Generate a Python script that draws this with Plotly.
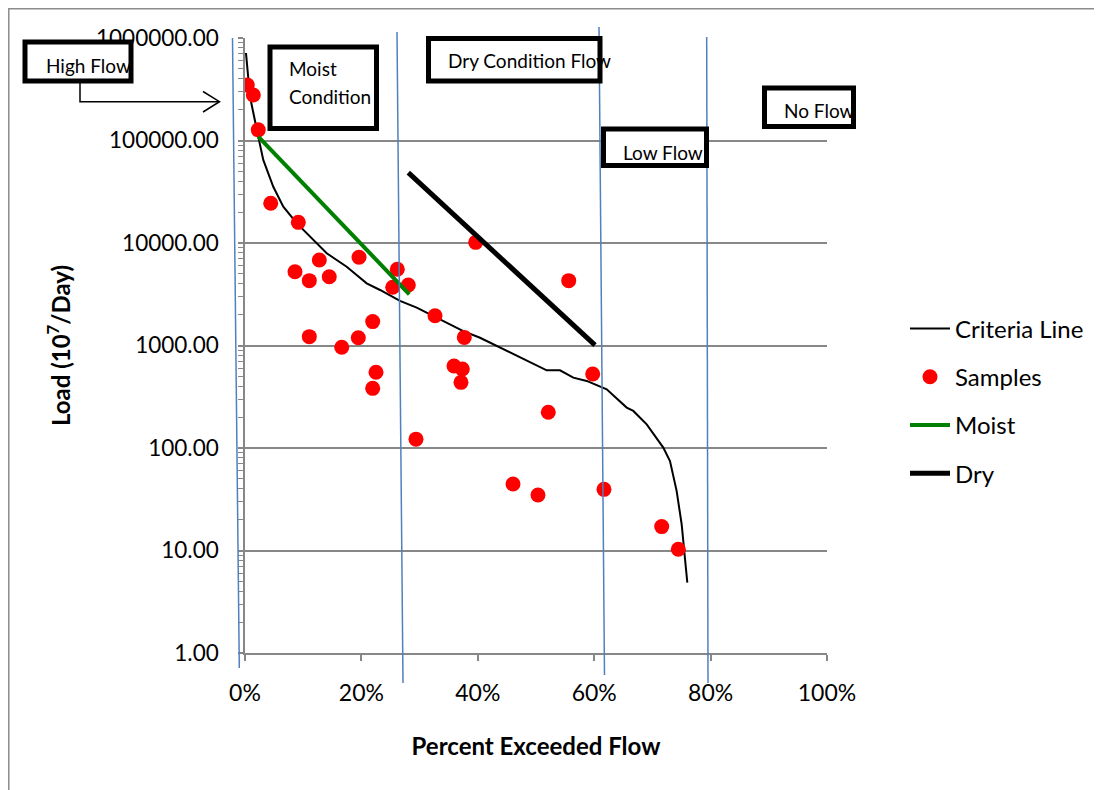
import plotly.graph_objects as go

# ---------------- data ----------------
criteria_x = [0.0017, 0.0086, 0.0228, 0.0314, 0.0486, 0.0658, 0.0888, 0.1117, 0.1404, 0.1747,
              0.2091, 0.2320, 0.2548, 0.2663, 0.2950, 0.3064, 0.3407, 0.3751, 0.4038, 0.4381,
              0.4610, 0.4897, 0.5184, 0.5412, 0.5641, 0.5871, 0.6215, 0.6558, 0.6672, 0.6902,
              0.7187, 0.7302, 0.7417, 0.7503, 0.7560, 0.7600]
criteria_y = [714000, 267000, 109000, 64600, 35400, 22600, 15600, 11500, 7930, 5870,
              4040, 3480, 2990, 2720, 2340, 2170, 1730, 1380, 1190, 951,
              820, 679, 573, 573, 486, 451, 374, 248, 230, 170,
              101, 74.6, 38.0, 18.0, 8.5, 4.85]

samples_x = [0.0040, 0.0143, 0.0228, 0.0442, 0.0916, 0.1277, 0.0859, 0.1105, 0.1448, 0.1959,
             0.2617, 0.2538, 0.2806, 0.3265, 0.3768, 0.2194, 0.1105, 0.1947, 0.1662, 0.2251,
             0.2194, 0.3591, 0.3734, 0.3711, 0.3964, 0.5562, 0.5974, 0.5211, 0.2938, 0.4605,
             0.5034, 0.6168, 0.7160, 0.7445]
samples_y = [348000, 278000, 127000, 24400, 15900, 6830, 5250, 4290, 4690, 7250,
             5540, 3700, 3890, 1950, 1200, 1710, 1220, 1190, 960, 548,
             382, 631, 590, 437, 10150, 4290, 527, 223, 122, 44.5,
             34.8, 39.5, 17.1, 10.3]

moist_x = [0.0228, 0.2548, 0.2823]
moist_y = [109000, 4530, 3160]

dry_x = [0.2806, 0.6014]
dry_y = [48500, 1010]

x_ticks = [0, 0.2, 0.4, 0.6, 0.8, 1.0]

# ---------------- layout helpers ----------------
# the page has an 8px body margin, so the figure is drawn 8px in from the window edge
OFF = 8
W, H = 1102 - OFF, 790 - OFF
# plot area in window pixels
L, R, T, B = 245, 827, 38, 653


def px(x):
    return (x - L) / (R - L)


def py(y):
    return (B - y) / (B - T)


FONT = "Lato, 'Open Sans', sans-serif"
GRID = "#878787"
BLUE = "#4F81BD"

fig = go.Figure()
fig.add_trace(go.Scatter(x=criteria_x, y=criteria_y, mode="lines", name="Criteria Line",
                         line=dict(color="black", width=2), legendgroup="a"))
fig.add_trace(go.Scatter(x=samples_x, y=samples_y, mode="markers", name="Samples",
                         marker=dict(color="#FF0000", size=15), legendgroup="b"))
fig.add_trace(go.Scatter(x=moist_x, y=moist_y, mode="lines", name="Moist",
                         line=dict(color="#008000", width=4), legendgroup="c"))
fig.add_trace(go.Scatter(x=dry_x, y=dry_y, mode="lines", name="Dry",
                         line=dict(color="black", width=5), legendgroup="d"))

shapes = []
# outer chart frame
shapes.append(dict(type="rect", xref="paper", yref="paper", x0=px(8.8), x1=px(1120), y0=py(8.8), y1=py(810),
                   line=dict(color="#8c8c8c", width=1.5), layer="below"))
# slanted zone boundary lines
for (xa, ya, xb, yb) in [(232.5, 38, 239.3, 668), (397, 32, 403, 683), (599, 27, 604.5, 675), (706.7, 37, 708, 683)]:
    shapes.append(dict(type="line", xref="paper", yref="paper", x0=px(xa), y0=py(ya), x1=px(xb), y1=py(yb),
                       line=dict(color=BLUE, width=1.5), layer="above"))
# text boxes
for (xa, ya, xb, yb) in [(25, 42, 131, 81), (270, 47, 376.5, 128.5), (428.5, 38.5, 600, 81),
                         (603.5, 129, 706.5, 165.5), (764.5, 88, 853.5, 126.5)]:
    shapes.append(dict(type="rect", xref="paper", yref="paper", x0=px(xa), y0=py(ya), x1=px(xb), y1=py(yb),
                       line=dict(color="black", width=5), fillcolor="white", layer="above"))
# elbow arrow from High Flow
shapes.append(dict(type="path", xref="paper", yref="paper",
                   path=f"M{px(80)},{py(82)} L{px(80)},{py(101.7)} L{px(219)},{py(101.7)}",
                   line=dict(color="black", width=1.5), layer="above"))
shapes.append(dict(type="path", xref="paper", yref="paper",
                   path=f"M{px(203)},{py(91.5)} L{px(219.5)},{py(101.7)} L{px(203)},{py(112)}",
                   line=dict(color="black", width=1.5), layer="above"))

annotations = []
for (txt, xx, yy) in [("High Flow", 44, 65), ("Moist", 287, 68), ("Condition", 287, 96),
                      ("Dry Condition Flow", 446, 61), ("Low Flow", 621, 152), ("No Flow", 782, 110)]:
    annotations.append(dict(text=txt, xref="paper", yref="paper", x=px(xx), y=py(yy),
                            xanchor="left", yanchor="middle", showarrow=False,
                            font=dict(family=FONT, size=19, color="black")))

fig.update_layout(
    width=W, height=H,
    margin=dict(l=L - OFF, r=W - (R - OFF), t=T - OFF, b=H - (B - OFF), autoexpand=False),
    paper_bgcolor="white", plot_bgcolor="white",
    font=dict(family=FONT, color="black"),
    shapes=shapes, annotations=annotations,
    showlegend=True,
    legend=dict(x=px(905), y=py(401), xanchor="left", yanchor="middle",
                font=dict(family=FONT, size=24, color="black"),
                tracegroupgap=14, itemwidth=40, bgcolor="rgba(0,0,0,0)"),
)

fig.update_xaxes(
    range=[0, 1], tickvals=x_ticks, tickformat=".0%",
    showgrid=False, zeroline=False,
    showline=True, linecolor=GRID, linewidth=1.5,
    ticks="outside", ticklen=6, tickcolor=GRID, tickwidth=1.5,
    tickfont=dict(family=FONT, size=23, color="black"),
    ticklabelstandoff=13,
    title=dict(text="<b>Percent Exceeded Flow</b>", font=dict(family=FONT, size=24, color="black"),
               standoff=33),
)
fig.update_yaxes(
    type="log", range=[0, 6], dtick=1, tickformat=".2f",
    showgrid=True, gridcolor=GRID, gridwidth=1.5,
    zeroline=False, showline=True, linecolor=GRID, linewidth=1.5,
    ticks="outside", ticklen=5, tickcolor=GRID, tickwidth=1.5,
    minor=dict(ticks="outside", ticklen=5, tickcolor=GRID, tickwidth=1, dtick="D1", showgrid=False),
    tickfont=dict(family=FONT, size=22.5, color="black"),
    ticklabelstandoff=15,
    title=dict(text="<b>Load (10<sup>7</sup>/Day)</b>", font=dict(family=FONT, size=24, color="black"),
               standoff=19),
)

fig.write_html("out.html")
